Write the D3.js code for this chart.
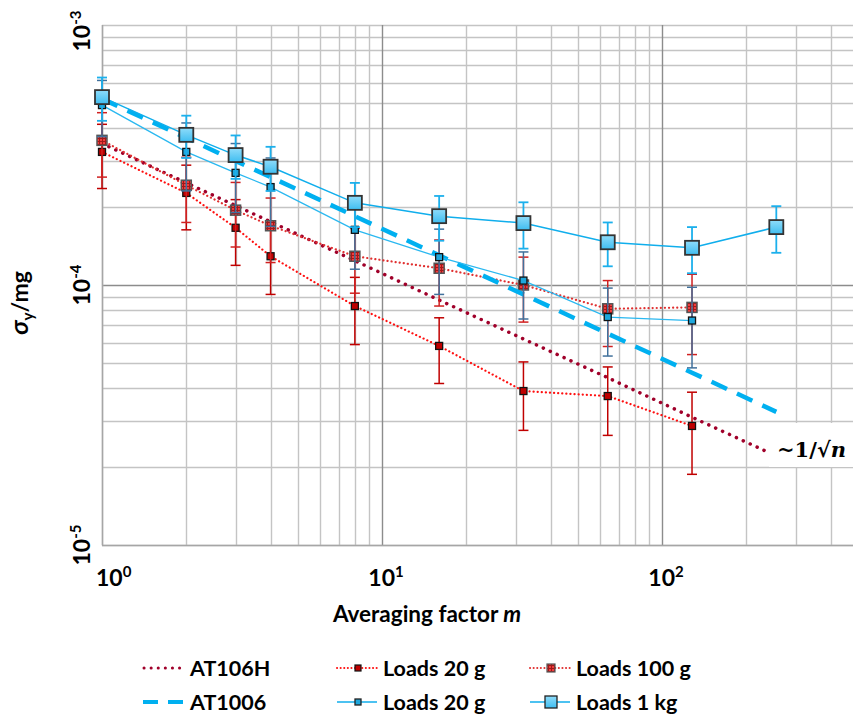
<!DOCTYPE html>
<meta charset="utf-8">
<style>
body { margin: 0; background: #fff; }
text { font-family: Lato, "Open Sans", sans-serif; font-weight: bold; fill: #000; }
</style>
<svg width="853" height="714"></svg>
<script src="https://d3js.org/d3.v7.min.js"></script>
<script>

// averaging factors
var m = [1, 2, 3, 4, 8, 16, 32, 64, 128, 256];

// ~1/sqrt(n) reference lines
var at106h = [3.5e-4, 2.47e-4, 2.02e-4, 1.75e-4, 1.24e-4, 8.75e-5, 6.2e-5, 4.4e-5, 3.1e-5, 2.2e-5];
var at1006 = [5.2e-4, 3.68e-4, 3.0e-4, 2.6e-4, 1.84e-4, 1.3e-4, 9.2e-5, 6.5e-5, 4.6e-5, 3.25e-5];

// AT106H measurements
var red20 = [3.25e-4, 2.26e-4, 1.66e-4, 1.29e-4, 8.3e-5, 5.83e-5, 3.91e-5, 3.74e-5, 2.87e-5];
var red20Err = [0.9e-4, 0.63e-4, 0.47e-4, 0.37e-4, 2.4e-5, 1.65e-5, 1.15e-5, 1.1e-5, 1.0e-5];
var red100 = [3.6e-4, 2.42e-4, 1.94e-4, 1.69e-4, 1.29e-4, 1.16e-4, 1.0e-4, 8.1e-5, 8.2e-5];
var red100Err = [1.0e-4, 0.68e-4, 0.54e-4, 0.47e-4, 3.6e-5, 3.3e-5, 2.8e-5, 2.3e-5, 2.8e-5];

// AT1006 measurements
var blue20 = [4.92e-4, 3.25e-4, 2.7e-4, 2.38e-4, 1.63e-4, 1.28e-4, 1.04e-4, 7.53e-5, 7.3e-5];
var blue20Err = [1.2e-4, 0.95e-4, 0.8e-4, 0.7e-4, 4.8e-5, 3.6e-5, 3.0e-5, 2.2e-5, 2.5e-5];
var blue1k = [5.28e-4, 3.78e-4, 3.16e-4, 2.85e-4, 2.07e-4, 1.84e-4, 1.73e-4, 1.46e-4, 1.39e-4, 1.67e-4];
var blue1kErr = [1.0e-4, 0.7e-4, 0.6e-4, 0.55e-4, 0.4e-4, 0.36e-4, 0.35e-4, 0.28e-4, 0.28e-4, 0.34e-4];

var xTicks = [1, 10, 100];
var yTicks = [1e-5, 1e-4, 1e-3];

var svg = d3.select("svg"),
    W = +svg.attr("width");

var x = d3.scaleLog().domain([1, 1000]).range([102, 942]);
var y = d3.scaleLog().domain([1e-5, 1e-3]).range([545, 25]);

var defs = svg.append("defs");
var pat = defs.append("pattern")
    .attr("id", "redcheck")
    .attr("patternUnits", "userSpaceOnUse")
    .attr("width", 3).attr("height", 3);
pat.append("rect").attr("width", 3).attr("height", 3).attr("fill", "#f03c3c");
pat.append("rect").attr("width", 1).attr("height", 3).attr("fill", "#a01818");
pat.append("rect").attr("width", 3).attr("height", 1).attr("fill", "#a01818");

var fill1k = defs.append("linearGradient").attr("id", "fill1k")
    .attr("x1", 0).attr("y1", 0).attr("x2", 0).attr("y2", 1);
fill1k.append("stop").attr("offset", 0).attr("stop-color", "#8fdcfa");
fill1k.append("stop").attr("offset", 1).attr("stop-color", "#3fbdf0");

// grid
var grid = svg.append("g");
var vx = [], hy = [];
[1, 10, 100].forEach(function(d) { for (var k = 1; k < 10; k++) vx.push(d * k); });
vx.push(1000);
[1e-5, 1e-4].forEach(function(d) { for (var k = 1; k < 10; k++) hy.push(d * k); });
hy.push(1e-3);

grid.selectAll(".hg").data(hy).enter().append("line")
    .attr("x1", x(1)).attr("x2", W)
    .attr("y1", function(d) { return Math.round(y(d)) + 0.5; })
    .attr("y2", function(d) { return Math.round(y(d)) + 0.5; })
    .attr("stroke", function(d, i) { return (i % 9 == 0 && i > 0 && i < 18) ? "#8c8c8c" : "#c4c4c4"; })
    .attr("stroke-width", 1.4);

grid.selectAll(".vg").data(vx).enter().append("line")
    .attr("y1", y(1e-3)).attr("y2", y(1e-5))
    .attr("x1", function(d) { return Math.round(x(d)) + 0.5; })
    .attr("x2", function(d) { return Math.round(x(d)) + 0.5; })
    .attr("stroke", function(d, i) { return (i % 9 == 0 && i > 0) ? "#8c8c8c" : "#c4c4c4"; })
    .attr("stroke-width", 1.4);

// axis lines
grid.append("line").attr("x1", x(1) + 0.5).attr("x2", x(1) + 0.5)
    .attr("y1", y(1e-3)).attr("y2", y(1e-5) + 0.5).attr("stroke", "#a6a6a6").attr("stroke-width", 1.5);
grid.append("line").attr("x1", x(1)).attr("x2", W)
    .attr("y1", y(1e-5) + 0.5).attr("y2", y(1e-5) + 0.5).attr("stroke", "#a6a6a6").attr("stroke-width", 1.5);

// tick labels
var xl = svg.append("g").selectAll("text").data(xTicks).enter().append("text")
    .attr("x", function(d, i) { return i == 0 ? x(d) - 6 : x(d) + 4; })
    .attr("y", 586)
    .attr("text-anchor", function(d, i) { return i == 0 ? "start" : "middle"; })
    .attr("font-size", 23);
xl.append("tspan").text("10");
xl.append("tspan").attr("dy", -9).attr("font-size", 15).text(function(d) { return Math.round(Math.log10(d)); });

var yl = svg.append("g").selectAll("text").data(yTicks).enter().append("text")
    .attr("transform", function(d, i) { return "translate(90," + (y(d) + (i == 2 ? 6 : 0)) + ") rotate(-90)"; })
    .attr("text-anchor", "middle")
    .attr("font-size", 23);
yl.append("tspan").text("10");
yl.append("tspan").attr("dy", -9).attr("font-size", 15).text(function(d) { return Math.round(Math.log10(d)); });

// axis titles
var xt = svg.append("text").attr("x", 427).attr("y", 622).attr("text-anchor", "middle").attr("font-size", 22.5);
xt.append("tspan").text("Averaging factor ");
xt.append("tspan").attr("font-style", "italic").text("m");

var yt = svg.append("text").attr("transform", "translate(28,303) rotate(-90)")
    .attr("text-anchor", "middle").attr("font-size", 23);
yt.append("tspan").attr("font-style", "italic").attr("font-size", 25).text("σ");
yt.append("tspan").attr("font-size", 15).attr("dy", 5).text("y");
yt.append("tspan").attr("dy", -5).text("/mg");

var plot = svg.append("g");

function lineOf(vals) {
  return d3.line().x(function(d, i) { return x(m[i]); }).y(function(d) { return y(d); })(vals);
}

function errBars(vals, errs, color, w) {
  var g = plot.append("g").attr("stroke", color).attr("stroke-width", w);
  vals.forEach(function(v, i) {
    var y1 = y(v + errs[i]), y2 = y(v - errs[i]), cx = x(m[i]);
    g.append("line").attr("x1", cx).attr("x2", cx).attr("y1", y1).attr("y2", y2);
    g.append("line").attr("x1", cx - 5).attr("x2", cx + 5).attr("y1", y1).attr("y2", y1);
    g.append("line").attr("x1", cx - 5).attr("x2", cx + 5).attr("y1", y2).attr("y2", y2);
  });
}

function markers(vals, size, fill, stroke, sw) {
  plot.append("g").selectAll("rect").data(vals).enter().append("rect")
    .attr("x", function(d, i) { return x(m[i]) - size / 2; })
    .attr("y", function(d) { return y(d) - size / 2; })
    .attr("width", size).attr("height", size)
    .attr("fill", fill).attr("stroke", stroke).attr("stroke-width", sw);
}

// AT106H fit
plot.append("path").attr("d", lineOf(at106h)).attr("fill", "none")
    .attr("stroke", "#a0002a").attr("stroke-width", 3.5)
    .attr("stroke-dasharray", "0.1 7.5").attr("stroke-linecap", "round");

// Loads 20 g (AT106H)
errBars(red20, red20Err, "#c00000", 1.5);
plot.append("path").attr("d", lineOf(red20)).attr("fill", "none")
    .attr("stroke", "#ff1010").attr("stroke-width", 2.2)
    .attr("stroke-dasharray", "0.1 4").attr("stroke-linecap", "round");
markers(red20, 7, "#c00000", "#111", 1.3);

// Loads 100 g
errBars(red100, red100Err, "#d02020", 1.5);
plot.append("path").attr("d", lineOf(red100)).attr("fill", "none")
    .attr("stroke", "#e03030").attr("stroke-width", 2.2)
    .attr("stroke-dasharray", "0.1 4").attr("stroke-linecap", "round");
markers(red100, 10, "url(#redcheck)", "#555", 1.5);

// AT1006 fit
plot.append("path").attr("d", lineOf(at1006)).attr("fill", "none")
    .attr("stroke", "#00b0f0").attr("stroke-width", 4.5)
    .attr("stroke-dasharray", "17 11");

// Loads 20 g (AT1006)
errBars(blue20, blue20Err, "#41719c", 1.5);
plot.append("path").attr("d", lineOf(blue20)).attr("fill", "none")
    .attr("stroke", "#2ab8f0").attr("stroke-width", 1.3);
markers(blue20, 7, "#1ea7dd", "#111", 1.3);

// Loads 1 kg
errBars(blue1k, blue1kErr, "#1cb0ec", 1.8);
plot.append("path").attr("d", lineOf(blue1k)).attr("fill", "none")
    .attr("stroke", "#10aeec").attr("stroke-width", 1.5);
markers(blue1k, 14, "url(#fill1k)", "#333", 1.8);

// ~1/sqrt(n) label
svg.append("rect").attr("x", 769).attr("y", 423).attr("width", 84).attr("height", 44).attr("fill", "#fff");
var lab = svg.append("text").attr("x", 777).attr("y", 457)
    .style("font-family", "'DejaVu Serif', serif").attr("font-size", 21);
lab.append("tspan").text("~1/√");
lab.append("tspan").attr("font-style", "italic").text("n");

// legend
var legend = [
  {name: "AT106H", col: 0, row: 0},
  {name: "Loads 20 g", col: 1, row: 0},
  {name: "Loads 100 g", col: 2, row: 0},
  {name: "AT1006", col: 0, row: 1},
  {name: "Loads 20 g", col: 1, row: 1},
  {name: "Loads 1 kg", col: 2, row: 1}
];
var colX = [143, 337, 530], rowY = [668, 702];

var lg = svg.append("g").selectAll("g").data(legend).enter().append("g")
    .attr("transform", function(d) { return "translate(" + colX[d.col] + "," + rowY[d.row] + ")"; });

lg.append("text").attr("x", function(d) { return d.col == 0 ? 47 : 46; }).attr("y", 8)
    .attr("font-size", 21.5).text(function(d) { return d.name; });

lg.each(function(d, i) {
  var g = d3.select(this);
  if (i == 0) {
    g.append("line").attr("x1", 1).attr("x2", 40).attr("stroke", "#a0002a").attr("stroke-width", 3)
      .attr("stroke-dasharray", "0.1 7").attr("stroke-linecap", "round");
  } else if (i == 3) {
    g.append("line").attr("x1", 0).attr("x2", 40).attr("stroke", "#00b0f0").attr("stroke-width", 4)
      .attr("stroke-dasharray", "15 10");
  } else if (i == 1 || i == 2) {
    g.append("line").attr("x1", 0).attr("x2", 40).attr("stroke", i == 1 ? "#ff1010" : "#e03030").attr("stroke-width", 2)
      .attr("stroke-dasharray", "0.1 3.5").attr("stroke-linecap", "round");
    var s = i == 1 ? 6 : 8;
    g.append("rect").attr("x", 21 - s / 2).attr("y", -s / 2).attr("width", s).attr("height", s)
      .attr("fill", i == 1 ? "#c00000" : "url(#redcheck)").attr("stroke", i == 1 ? "#111" : "#555").attr("stroke-width", 1.2);
  } else {
    g.append("line").attr("x1", 0).attr("x2", 40).attr("stroke", "#10aeec").attr("stroke-width", 1.3);
    var s2 = i == 4 ? 6 : 12;
    g.append("rect").attr("x", 21 - s2 / 2).attr("y", -s2 / 2).attr("width", s2).attr("height", s2)
      .attr("fill", i == 4 ? "#1ea7dd" : "url(#fill1k)").attr("stroke", "#222").attr("stroke-width", 1.3);
  }
});

</script>
